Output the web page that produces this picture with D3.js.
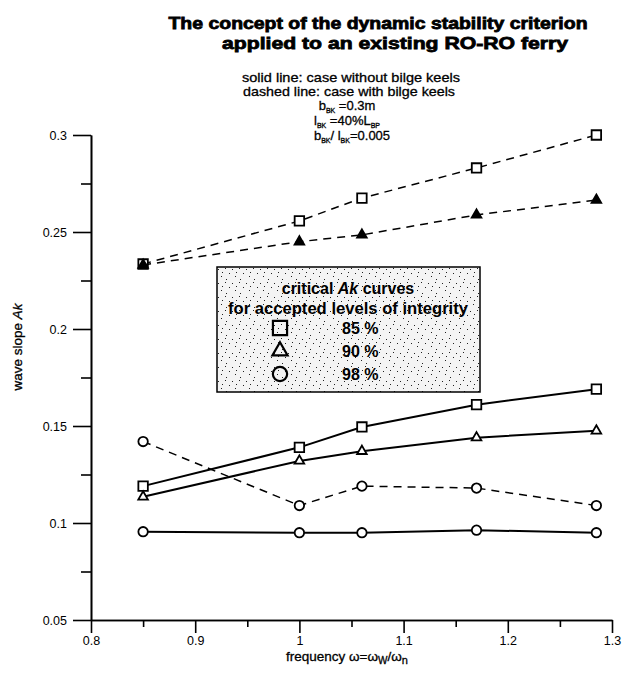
<!DOCTYPE html>
<html>
<head>
<meta charset="utf-8">
<script src="https://cdn.jsdelivr.net/npm/d3@7"></script>
<style>
  body { margin: 0; background: #fff; }
  text { font-family: "Liberation Sans", Arial, sans-serif; fill: #000; }
  .axis path, .axis line { stroke: #000; stroke-width: 1.6; }
  .axis text { font-size: 12.5px; }
</style>
</head>
<body>
<div id="chart"></div>
<script>
// values
var freq = [0.85, 1.0, 1.06, 1.17, 1.285];
var sqSolid = [0.119, 0.139, 0.1495, 0.161, 0.169];
var triSolid = [0.1135, 0.132, 0.137, 0.144, 0.1475];
var circSolid = [0.0955, 0.095, 0.095, 0.0963, 0.095];
var sqDashed = [0.2335, 0.2557, 0.2675, 0.283, 0.300];
var triDashed = [0.233, 0.245, 0.2485, 0.2588, 0.2665];
var circDashed = [0.142, 0.109, 0.119, 0.118, 0.109];

var xTicks = [0.8, 0.9, 1, 1.1, 1.2, 1.3];
var xMinor = [0.85, 0.95, 1.05, 1.15, 1.25];
var yTicks = [0.05, 0.1, 0.15, 0.2, 0.25, 0.3];
var yMinor = [0.075, 0.125, 0.175, 0.225, 0.275];
var levels = ["85 %", "90 %", "98 %"];

var width = 632, height = 673;
var margin = {top: 135, left: 91, right: 20, bottom: 53};

var svg = d3.select("#chart")
  .append("svg")
  .attr("width", width)
  .attr("height", height);

var xScale = d3.scaleLinear()
  .domain([0.8, 1.3])
  .range([margin.left, 612]);

var yScale = d3.scaleLinear()
  .domain([0.05, 0.3])
  .range([height - margin.bottom, margin.top]);

// stipple texture for the legend box
var defs = svg.append("defs");
var pat = defs.append("pattern")
  .attr("id", "stipple")
  .attr("width", 14)
  .attr("height", 14)
  .attr("patternUnits", "userSpaceOnUse");
pat.append("rect").attr("width", 14).attr("height", 14).attr("fill", "#f4f4f4");
[[1, 2], [8, 1], [12, 6], [4, 9], [9, 12], [5, 5]].forEach(function(p) {
  pat.append("rect").attr("x", p[0]).attr("y", p[1]).attr("width", 1).attr("height", 1).attr("fill", "#222");
});

// axes
var fmt = function(d) { return String(+d.toFixed(2)); };

svg.append("g")
  .attr("class", "axis")
  .attr("transform", `translate(0,${yScale(0.05)})`)
  .call(d3.axisBottom(xScale).tickValues(xMinor).tickSize(7).tickFormat("").tickSizeOuter(0));

svg.append("g")
  .attr("class", "axis")
  .attr("transform", `translate(0,${yScale(0.05)})`)
  .call(d3.axisBottom(xScale).tickValues(xTicks).tickSize(13).tickPadding(3).tickFormat(fmt).tickSizeOuter(0));

svg.append("g")
  .attr("class", "axis")
  .attr("transform", `translate(${margin.left},0)`)
  .call(d3.axisLeft(yScale).tickValues(yMinor).tickSize(10).tickFormat("").tickSizeOuter(0));

svg.append("g")
  .attr("class", "axis")
  .attr("transform", `translate(${margin.left},0)`)
  .call(d3.axisLeft(yScale).tickValues(yTicks).tickSize(18).tickPadding(6).tickFormat(fmt).tickSizeOuter(0));

// series
var series = [
  {vals: sqSolid, sym: d3.symbolSquare, size: 90, dash: null, fill: "#fff"},
  {vals: triSolid, sym: d3.symbolTriangle, size: 40, dash: null, fill: "#fff"},
  {vals: circSolid, sym: d3.symbolCircle, size: 70, dash: null, fill: "#fff"},
  {vals: sqDashed, sym: d3.symbolSquare, size: 90, dash: "8,6", fill: "#fff"},
  {vals: triDashed, sym: d3.symbolTriangle, size: 40, dash: "8,6", fill: "#000"},
  {vals: circDashed, sym: d3.symbolCircle, size: 70, dash: "8,6", fill: "#fff"}
];

var line = d3.line()
  .x(function(d) { return xScale(d[0]); })
  .y(function(d) { return yScale(d[1]); });

series.forEach(function(s) {
  var pts = freq.map(function(f, i) { return [f, s.vals[i]]; });
  svg.append("path")
    .datum(pts)
    .attr("d", line)
    .attr("fill", "none")
    .attr("stroke", "#000")
    .attr("stroke-width", s.dash ? 1.5 : 2)
    .attr("stroke-dasharray", s.dash);
  svg.selectAll(null)
    .data(pts)
    .enter()
    .append("path")
      .attr("transform", function(d) { return `translate(${xScale(d[0])},${yScale(d[1])})`; })
      .attr("d", d3.symbol().type(s.sym).size(s.size))
      .attr("fill", s.fill)
      .attr("stroke", "#000")
      .attr("stroke-width", 1.8);
});

// legend box
var lg = svg.append("g").attr("transform", "translate(217,267)");
lg.append("rect")
  .attr("width", 263)
  .attr("height", 125)
  .attr("fill", "url(#stipple)")
  .attr("stroke", "#000")
  .attr("stroke-width", 1.5);

var t1 = lg.append("text")
  .attr("x", 131).attr("y", 27)
  .attr("text-anchor", "middle")
  .attr("font-size", 16).attr("font-weight", "bold");
t1.append("tspan").text("critical ");
t1.append("tspan").attr("font-style", "italic").text("Ak");
t1.append("tspan").text(" curves");

lg.append("text")
  .attr("x", 131).attr("y", 47)
  .attr("text-anchor", "middle")
  .attr("font-size", 16).attr("font-weight", "bold")
  .attr("textLength", 240).attr("lengthAdjust", "spacingAndGlyphs")
  .text("for accepted levels of integrity");

var legSyms = [d3.symbolSquare, d3.symbolTriangle, d3.symbolCircle];
var legSize = [200, 100, 160];
levels.forEach(function(l, i) {
  lg.append("path")
    .attr("transform", `translate(63,${61 + i * 23})`)
    .attr("d", d3.symbol().type(legSyms[i]).size(legSize[i]))
    .attr("fill", "none")
    .attr("stroke", "#000")
    .attr("stroke-width", 2.2);
  lg.append("text")
    .attr("x", 125).attr("y", 67 + i * 23)
    .attr("font-size", 16).attr("font-weight", "bold")
    .text(l);
});

// titles
svg.append("text")
  .attr("x", 378).attr("y", 29)
  .attr("text-anchor", "middle")
  .attr("font-size", 17).attr("font-weight", "bold")
  .attr("stroke", "#000").attr("stroke-width", 0.8)
  .attr("textLength", 419).attr("lengthAdjust", "spacingAndGlyphs")
  .text("The concept of the dynamic stability criterion");
svg.append("text")
  .attr("x", 395).attr("y", 49)
  .attr("text-anchor", "middle")
  .attr("font-size", 17).attr("font-weight", "bold")
  .attr("stroke", "#000").attr("stroke-width", 0.8)
  .attr("textLength", 346).attr("lengthAdjust", "spacingAndGlyphs")
  .text("applied to an existing RO-RO ferry");

var sub = svg.append("g").attr("font-size", 13)
  .attr("text-anchor", "middle")
  .attr("stroke", "#000").attr("stroke-width", 0.3);
sub.append("text").attr("x", 351).attr("y", 82)
  .attr("textLength", 218).attr("lengthAdjust", "spacingAndGlyphs")
  .text("solid line: case without bilge keels");
sub.append("text").attr("x", 349).attr("y", 96)
  .attr("textLength", 212).attr("lengthAdjust", "spacingAndGlyphs")
  .text("dashed line: case with bilge keels");

var s3 = sub.append("text").attr("x", 347).attr("y", 110);
s3.append("tspan").text("b");
s3.append("tspan").attr("font-size", 7).attr("dy", 3).text("BK");
s3.append("tspan").attr("dy", -3).text(" =0.3m");

var s4 = sub.append("text").attr("x", 347).attr("y", 125);
s4.append("tspan").text("l");
s4.append("tspan").attr("font-size", 7).attr("dy", 3).text("BK");
s4.append("tspan").attr("dy", -3).text(" =40%L");
s4.append("tspan").attr("font-size", 7).attr("dy", 3).text("BP");

var s5 = sub.append("text").attr("x", 352).attr("y", 140);
s5.append("tspan").text("b");
s5.append("tspan").attr("font-size", 7).attr("dy", 3).text("BK");
s5.append("tspan").attr("dy", -3).text("/ l");
s5.append("tspan").attr("font-size", 7).attr("dy", 3).text("BK");
s5.append("tspan").attr("dy", -3).text("=0.005");

// axis labels
var yl = svg.append("text")
  .attr("transform", "translate(22,347) rotate(-90)")
  .attr("text-anchor", "middle")
  .attr("font-size", 13.5)
  .attr("stroke", "#000").attr("stroke-width", 0.3);
yl.append("tspan").text("wave slope ");
yl.append("tspan").attr("font-style", "italic").text("Ak");

var xl = svg.append("text")
  .attr("x", 347).attr("y", 661)
  .attr("text-anchor", "middle")
  .attr("font-size", 13.5)
  .attr("stroke", "#000").attr("stroke-width", 0.3);
xl.append("tspan").text("frequency \u03c9=\u03c9");
xl.append("tspan").attr("font-size", 10).attr("dy", 3).text("W");
xl.append("tspan").attr("dy", -3).text("/\u03c9");
xl.append("tspan").attr("font-size", 11).attr("dy", 3).text("n");
</script>
</body>
</html>
